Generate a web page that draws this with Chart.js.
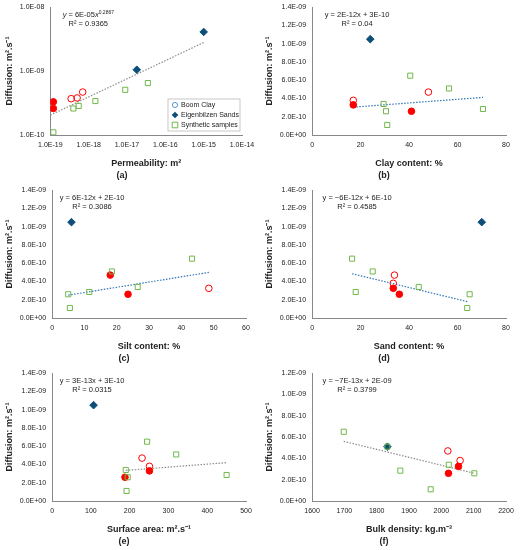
<!DOCTYPE html>
<html>
<head>
<meta charset="utf-8">
<script src="https://cdn.jsdelivr.net/npm/chart.js@4.4.1/dist/chart.umd.min.js"></script>
<style>
  body { margin: 0; background: #fff; }
  .panel { position: absolute; width: 260px; height: 183px; }
</style>
</head>
<body>
<div class="panel" style="left:0;top:0"><canvas id="ca"></canvas></div>
<div class="panel" style="left:260px;top:0"><canvas id="cb"></canvas></div>
<div class="panel" style="left:0;top:183px"><canvas id="cc"></canvas></div>
<div class="panel" style="left:260px;top:183px"><canvas id="cd"></canvas></div>
<div class="panel" style="left:0;top:366px"><canvas id="ce"></canvas></div>
<div class="panel" style="left:260px;top:366px"><canvas id="cf"></canvas></div>
<script>
// --- DATA (x, y pairs) ---
// (a) permeability, log-log
const permBoomOpen = [[3.5e-19, 3.7e-10], [5e-19, 3.8e-10], [7e-19, 4.7e-10]];
const permBoomFill = [[1.2e-19, 3.3e-10], [1.2e-19, 2.6e-10]];
const permEigen = [[1.8e-17, 1.05e-9], [1e-15, 4.1e-9]];
const permSynth = [[1.2e-19, 1.1e-10], [4e-19, 2.6e-10], [5.5e-19, 2.85e-10], [1.5e-18, 3.4e-10], [9e-18, 5.1e-10], [3.5e-17, 6.5e-10]];
const permTrend = [[1e-19, 2.05e-10], [1e-15, 2.8e-9]];

// (b) clay content
const clayBoomOpen = [[17, 3.8e-10], [48, 4.7e-10]];
const clayBoomFill = [[17, 3.3e-10], [41, 2.6e-10]];
const clayEigen = [[24, 1.05e-9]];
const claySynth = [[29.5, 3.4e-10], [30.5, 2.6e-10], [31, 1.1e-10], [40.5, 6.5e-10], [56.5, 5.1e-10], [70.5, 2.85e-10]];
const clayTrend = [[17, 3.05e-10], [70.5, 4.12e-10]];

// (c) silt content
const siltBoomOpen = [[48.5, 3.25e-10]];
const siltBoomFill = [[18, 4.7e-10], [23.5, 2.6e-10]];
const siltEigen = [[6, 1.05e-9]];
const siltSynth = [[5, 2.6e-10], [5.5, 1.1e-10], [11.5, 2.85e-10], [18.5, 5.1e-10], [26.5, 3.4e-10], [43.3, 6.5e-10]];
const siltTrend = [[5, 2.5e-10], [48.5, 5.0e-10]];

// (d) sand content
const sandBoomOpen = [[34, 4.7e-10], [33.5, 3.8e-10]];
const sandBoomFill = [[33.5, 3.25e-10], [36, 2.6e-10]];
const sandEigen = [[70, 1.05e-9]];
const sandSynth = [[16.5, 6.5e-10], [18, 2.85e-10], [25, 5.1e-10], [44, 3.4e-10], [64, 1.1e-10], [65, 2.6e-10]];
const sandTrend = [[16.5, 4.85e-10], [64, 1.8e-10]];

// (e) surface area
const surfBoomOpen = [[232, 4.7e-10], [251, 3.8e-10]];
const surfBoomFill = [[251, 3.3e-10], [188, 2.6e-10]];
const surfEigen = [[107, 1.05e-9]];
const surfSynth = [[190, 3.4e-10], [195, 2.6e-10], [192, 1.1e-10], [245, 6.5e-10], [320, 5.1e-10], [450, 2.85e-10]];
const surfTrend = [[190, 3.35e-10], [450, 4.2e-10]];

// (f) bulk density
const bulkBoomOpen = [[2020, 4.7e-10], [2058, 3.8e-10]];
const bulkBoomFill = [[2022, 2.6e-10], [2053, 3.25e-10]];
const bulkEigen = [[1833, 5.1e-10]];
const bulkSynth = [[1698, 6.5e-10], [1833, 5.1e-10], [1873, 2.85e-10], [1967, 1.1e-10], [2023, 3.4e-10], [2102, 2.6e-10]];
const bulkTrend = [[1698, 5.6e-10], [2102, 2.6e-10]];

const RED = '#ff0000';
const NAVY = '#0d4f7a';
const GREEN = '#70b84a';
const TXT = '#222';

function pts(arr) { return arr.map(p => ({ x: p[0], y: p[1] })); }

function sci(v) {
    if (v === 0) return '0.0E+00';
    const e = Math.floor(Math.log10(Math.abs(v)) + 1e-9);
    const m = v / Math.pow(10, e);
    const sign = e < 0 ? '-' : '+';
    return m.toFixed(1) + 'E' + sign + String(Math.abs(e)).padStart(2, '0');
}

// equation text drawn in the top-left of the plot area
const eqPlugin = {
    id: 'eq',
    afterDraw(chart, args, opts) {
        if (!opts.lines) return;
        const ctx = chart.ctx;
        const a = chart.chartArea;
        ctx.save();
        ctx.fillStyle = TXT;
        ctx.textAlign = 'center';
        ctx.textBaseline = 'middle';
        const cx = a.left + opts.dx;
        let y = a.top + 8;
        ctx.font = '7.5px "Liberation Sans", Arial, sans-serif';
        if (opts.power) {
            const sup = '0.2867';
            ctx.font = 'italic 7.5px "Liberation Sans", Arial';
            const w1 = ctx.measureText('y').width;
            ctx.font = '7.5px "Liberation Sans", Arial';
            const w2 = ctx.measureText(' = 6E-05').width;
            ctx.font = 'italic 7.5px "Liberation Sans", Arial';
            const w3 = ctx.measureText('x').width;
            ctx.font = '5px "Liberation Sans", Arial';
            const w4 = ctx.measureText(sup).width;
            let x = cx - (w1 + w2 + w3 + w4) / 2;
            ctx.textAlign = 'left';
            ctx.font = 'italic 7.5px "Liberation Sans", Arial'; ctx.fillText('y', x, y); x += w1;
            ctx.font = '7.5px "Liberation Sans", Arial'; ctx.fillText(' = 6E-05', x, y); x += w2;
            ctx.font = 'italic 7.5px "Liberation Sans", Arial'; ctx.fillText('x', x, y); x += w3;
            ctx.font = '5px "Liberation Sans", Arial'; ctx.fillText(sup, x, y - 3);
            ctx.textAlign = 'center';
        } else {
            ctx.fillText(opts.lines[0], cx, y);
        }
        ctx.font = '7.5px "Liberation Sans", Arial';
        ctx.fillText(opts.lines[1], cx, y + 9);
        ctx.restore();
    }
};

// legend box for panel (a)
const legendPlugin = {
    id: 'boxLegend',
    afterDraw(chart, args, opts) {
        if (!opts.show) return;
        const ctx = chart.ctx;
        const a = chart.chartArea;
        const w = 72, h = 32;
        const x0 = a.right - w - 2, y0 = a.bottom - h - 4;
        ctx.save();
        ctx.fillStyle = '#fff';
        ctx.strokeStyle = '#bbb';
        ctx.lineWidth = 0.8;
        ctx.fillRect(x0, y0, w, h);
        ctx.strokeRect(x0, y0, w, h);
        const items = [['circle', '#5b9bd5', false, 'Boom Clay'], ['rectRot', NAVY, true, 'Eigenbilzen Sands'], ['rect', GREEN, false, 'Synthetic samples']];
        ctx.font = '7px "Liberation Sans", Arial';
        ctx.textBaseline = 'middle';
        items.forEach((it, i) => {
            const yy = y0 + 6 + i * 10;
            const xx = x0 + 7;
            ctx.strokeStyle = it[1];
            ctx.fillStyle = it[1];
            ctx.lineWidth = 1;
            ctx.beginPath();
            if (it[0] === 'circle') ctx.arc(xx, yy, 2.6, 0, Math.PI * 2);
            else if (it[0] === 'rectRot') { ctx.moveTo(xx, yy - 3.3); ctx.lineTo(xx + 3.3, yy); ctx.lineTo(xx, yy + 3.3); ctx.lineTo(xx - 3.3, yy); ctx.closePath(); }
            else ctx.rect(xx - 2.8, yy - 2.8, 5.6, 5.6);
            if (it[2]) ctx.fill(); else ctx.stroke();
            ctx.fillStyle = TXT;
            ctx.fillText(it[3], xx + 6, yy);
        });
        ctx.restore();
    }
};

function buildPanel(id, cfg) {
    const trendColor = cfg.trendColor || '#8c8c8c';
    const datasets = [
        { data: pts(cfg.trend), type: 'line', borderColor: trendColor, borderWidth: 1.2, borderDash: [1.5, 1.5], pointRadius: 0, fill: false, order: 5 },
        { data: pts(cfg.synth), pointStyle: 'rect', pointRadius: 3.6, borderColor: GREEN, backgroundColor: 'rgba(0,0,0,0)', borderWidth: 1 },
        { data: pts(cfg.boomOpen), pointStyle: 'circle', pointRadius: 3.3, borderColor: RED, backgroundColor: 'rgba(0,0,0,0)', borderWidth: 1 },
        { data: pts(cfg.boomFill), pointStyle: 'circle', pointRadius: 3.3, borderColor: RED, backgroundColor: RED, borderWidth: 1 },
        { data: pts(cfg.eigen), pointStyle: 'rectRot', pointRadius: 3.8, borderColor: NAVY, backgroundColor: NAVY, borderWidth: 1 }
    ];
    const tickFont = { size: 7, family: '"Liberation Sans", Arial' };
    const titleFont = { size: 9, weight: 'bold', family: '"Liberation Sans", Arial' };
    const xScale = cfg.logX ? {
        type: 'logarithmic', min: 1e-19, max: 1e-14,
        afterBuildTicks: ax => { ax.ticks = [1e-19, 1e-18, 1e-17, 1e-16, 1e-15, 1e-14].map(v => ({ value: v })); },
        ticks: { font: tickFont, color: TXT, callback: v => sci(v), maxRotation: 0 }
    } : {
        type: 'linear', min: cfg.xMin, max: cfg.xMax,
        ticks: { font: tickFont, color: TXT, stepSize: cfg.xStep, maxRotation: 0, callback: v => String(v) }
    };
    const yScale = cfg.logX ? {
        type: 'logarithmic', min: 1e-10, max: 1e-8,
        afterBuildTicks: ax => { ax.ticks = [1e-10, 1e-9, 1e-8].map(v => ({ value: v })); },
        ticks: { font: tickFont, color: TXT, callback: v => sci(v) }
    } : {
        type: 'linear', min: 0, max: cfg.yMax,
        ticks: { font: tickFont, color: TXT, stepSize: 2e-10, callback: v => sci(v) }
    };
    Object.assign(xScale, {
        grid: { display: false, drawTicks: true, tickLength: 3, tickColor: '#888' },
        border: { color: '#888' },
        title: { display: true, text: cfg.xTitle, font: titleFont, color: TXT, padding: { top: 6, bottom: 0 } }
    });
    Object.assign(yScale, {
        grid: { display: false, drawTicks: true, tickLength: 3, tickColor: '#888' },
        border: { color: '#888' },
        title: { display: true, text: 'Diffusion: m\u00b2.s\u207b\u00b9', font: titleFont, color: TXT, padding: 2 }
    });
    new Chart(document.getElementById(id), {
        type: 'scatter',
        data: { datasets },
        options: {
            responsive: true,
            maintainAspectRatio: false,
            animation: false,
            layout: { padding: { left: 2, right: cfg.padRight || 14, top: 6, bottom: 0 } },
            scales: { x: xScale, y: yScale },
            plugins: {
                legend: { display: false },
                tooltip: { enabled: false },
                title: { display: true, position: 'bottom', text: cfg.caption, font: { size: 9, family: '"Liberation Sans", Arial' }, color: TXT, padding: { top: 1, bottom: 2 } },
                eq: { lines: cfg.eq, dx: cfg.eqDx || 55, power: !!cfg.logX },
                boxLegend: { show: !!cfg.legend }
            }
        },
        plugins: [eqPlugin, legendPlugin]
    });
}

buildPanel('ca', { logX: true, boomOpen: permBoomOpen, boomFill: permBoomFill, eigen: permEigen, synth: permSynth, trend: permTrend,
    xTitle: 'Permeability: m\u00b2', caption: '(a)', eq: ['', 'R\u00b2 = 0.9365'], eqDx: 38, legend: true, padRight: 18 });
buildPanel('cb', { xMin: 0, xMax: 80, xStep: 20, yMax: 1.4e-9, boomOpen: clayBoomOpen, boomFill: clayBoomFill, eigen: clayEigen, synth: claySynth, trend: clayTrend,
    trendColor: '#2e75b6', xTitle: 'Clay content: %', caption: '(b)', eq: ['y = 2E-12x + 3E-10', 'R\u00b2 = 0.04'], eqDx: 45 });
buildPanel('cc', { xMin: 0, xMax: 60, xStep: 10, yMax: 1.4e-9, boomOpen: siltBoomOpen, boomFill: siltBoomFill, eigen: siltEigen, synth: siltSynth, trend: siltTrend,
    trendColor: '#2e75b6', xTitle: 'Silt content: %', caption: '(c)', eq: ['y = 6E-12x + 2E-10', 'R\u00b2 = 0.3086'], eqDx: 40 });
buildPanel('cd', { xMin: 0, xMax: 80, xStep: 20, yMax: 1.4e-9, boomOpen: sandBoomOpen, boomFill: sandBoomFill, eigen: sandEigen, synth: sandSynth, trend: sandTrend,
    trendColor: '#2e75b6', xTitle: 'Sand content: %', caption: '(d)', eq: ['y = \u22126E-12x + 6E-10', 'R\u00b2 = 0.4585'], eqDx: 45 });
buildPanel('ce', { xMin: 0, xMax: 500, xStep: 100, yMax: 1.4e-9, boomOpen: surfBoomOpen, boomFill: surfBoomFill, eigen: surfEigen, synth: surfSynth, trend: surfTrend,
    xTitle: 'Surface area: m\u00b2.s\u207b\u00b9', caption: '(e)', eq: ['y = 3E-13x + 3E-10', 'R\u00b2 = 0.0315'], eqDx: 40 });
buildPanel('cf', { xMin: 1600, xMax: 2200, xStep: 100, yMax: 1.2e-9, boomOpen: bulkBoomOpen, boomFill: bulkBoomFill, eigen: bulkEigen, synth: bulkSynth, trend: bulkTrend,
    xTitle: 'Bulk density: kg.m\u207b\u00b3', caption: '(f)', eq: ['y = \u22127E-13x + 2E-09', 'R\u00b2 = 0.3799'], eqDx: 45 });
</script>
</body>
</html>
